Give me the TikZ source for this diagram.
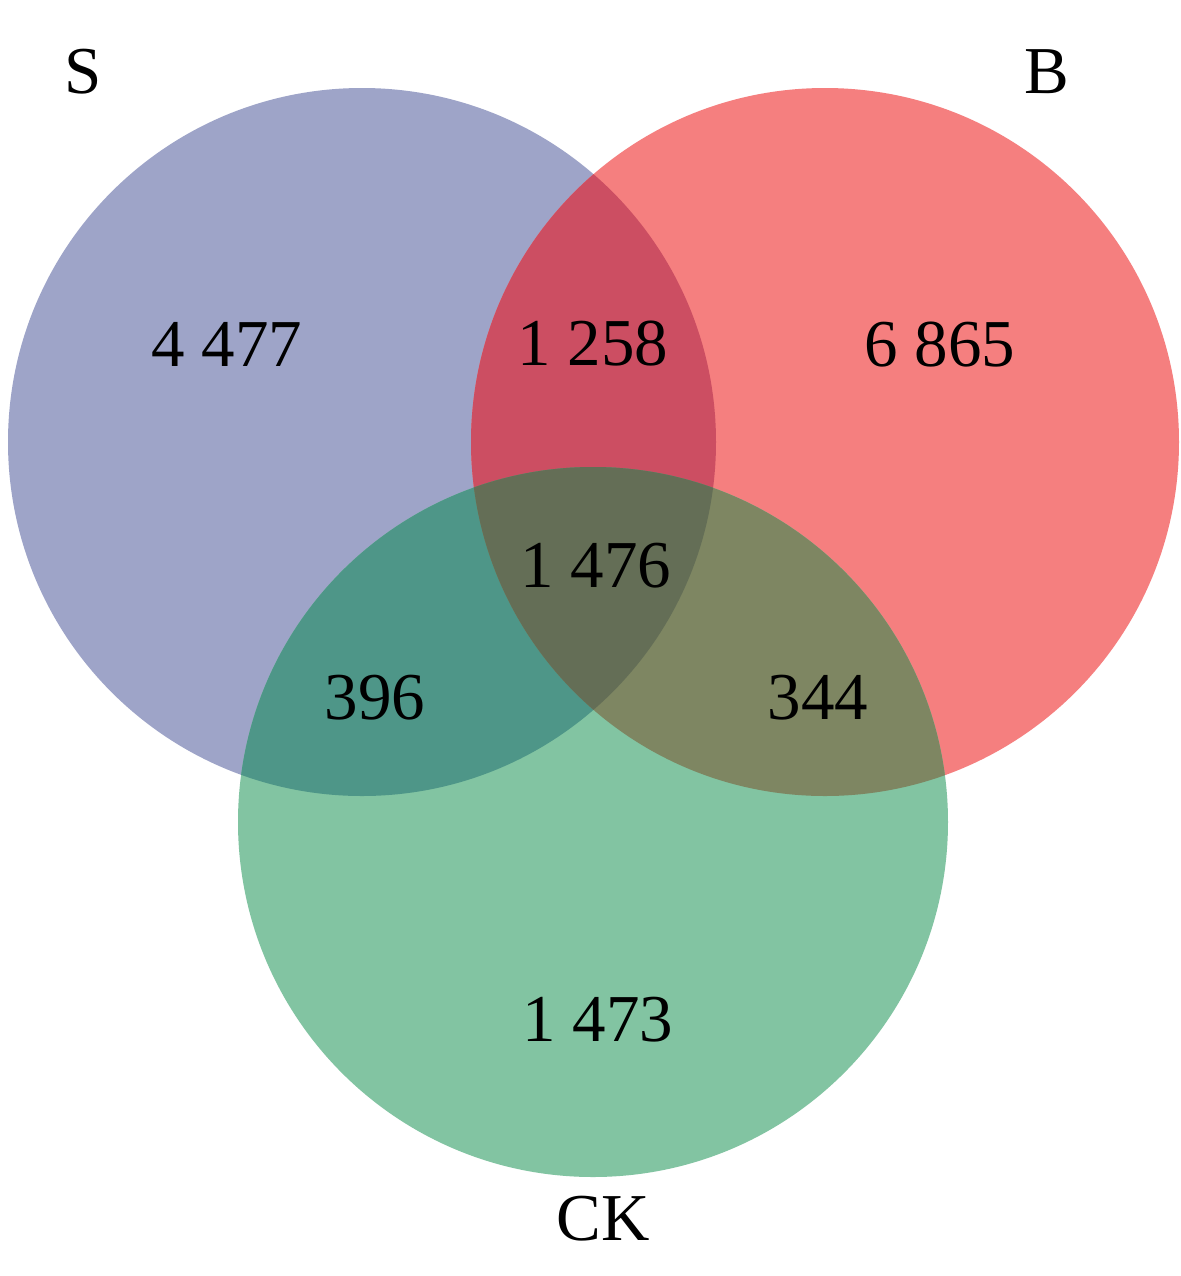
\documentclass[tikz,border=0pt]{standalone}
\usepackage{fontspec}
\setmainfont{Liberation Serif}
\definecolor{colS}{HTML}{9EA4C8}
\definecolor{colB}{HTML}{F57F7F}
\definecolor{colCK}{HTML}{82C4A2}
\definecolor{colSB}{HTML}{CC4E62}
\definecolor{colSCK}{HTML}{4E9688}
\definecolor{colBCK}{HTML}{7E8662}
\definecolor{colAll}{HTML}{646E56}
\tikzset{every node/.style={anchor=base, inner sep=0pt, font=\fontsize{33.5}{40}\selectfont}}
\def\circS{(362,442) circle (177pt)}
\def\circB{(825,442) circle (177pt)}
\def\circCK{(593,822) circle (177.5pt)}

\begin{document}
\begin{tikzpicture}[x=0.5pt,y=-0.5pt]
   \fill[white] (0,0) rectangle (1181,1276);
   \useasboundingbox (0,0) rectangle (1181,1276);
   % the three sets
   \fill[colS] \circS;
   \fill[colB] \circB;
   \fill[colCK] \circCK;
   % overlaps
   \begin{scope} \clip \circS; \fill[colSB] \circB; \end{scope}
   \begin{scope} \clip \circS; \fill[colSCK] \circCK; \end{scope}
   \begin{scope} \clip \circB; \fill[colBCK] \circCK; \end{scope}
   \begin{scope} \clip \circS; \clip \circB; \fill[colAll] \circCK; \end{scope}
   % set names
   \node (nameS) at (83,93) {S};
   \node (nameB) at (1047,93) {B};
   \node (nameCK) at (603,1240) {CK};
   % counts
   \node (onlyS) at (227,366) {4 477};
   \node (onlyB) at (940,366) {6 865};
   \node (onlyCK) at (598,1041) {1 473};
   \node (SB) at (593,365) {1 258};
   \node (SCK) at (375,719) {396};
   \node (BCK) at (818,719) {344};
   \node (SBCK) at (596,587) {1 476};
\end{tikzpicture}
\end{document}
